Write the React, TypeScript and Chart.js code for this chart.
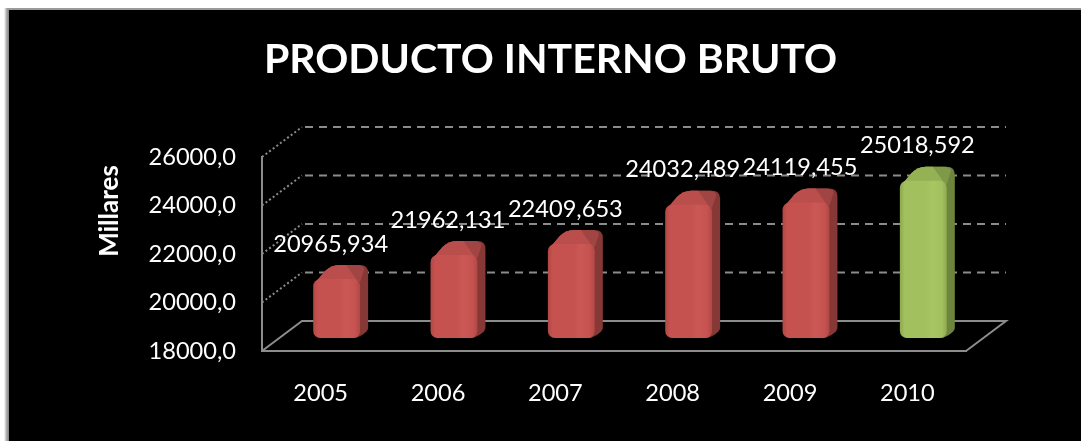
import React, { useEffect, useRef } from "react";
import { Chart, registerables } from "chart.js";

Chart.register(...registerables);

const TITLE = "PRODUCTO INTERNO BRUTO";
const AXIS_TITLE = "Millares";
const years = ["2005", "2006", "2007", "2008", "2009", "2010"];
const pib = [20965.934, 21962.131, 22409.653, 24032.489, 24119.455, 25018.592];
const faceMain = ["#c5524f", "#c5524f", "#c5524f", "#c5524f", "#c5524f", "#a2c05e"];
const faceEdge = ["#b04744", "#b04744", "#b04744", "#b04744", "#b04744", "#8ea84f"];
const faceLight = ["#cc5855", "#cc5855", "#cc5855", "#cc5855", "#cc5855", "#a9c663"];
const topColor = ["#ba4e4c", "#ba4e4c", "#ba4e4c", "#ba4e4c", "#ba4e4c", "#94b154"];
const topShade = ["#a04543", "#a04543", "#a04543", "#a04543", "#a04543", "#809948"];
const sideColor = ["#853835", "#853835", "#853835", "#853835", "#853835", "#6d843c"];

const AXIS_MIN = 18000;
const AXIS_MAX = 26000;
const AXIS_STEP = 2000;
const BAR_BASE = 18536;

const FONT = "Lato, Carlito, sans-serif";
const DEPTH_X = 40;
const DEPTH_Y = -30;
const GREY = "#8c8c8c";
const BAR_SHIFT = 16;

const fmtTick = (v: number) => v.toFixed(1).replace(".", ",");
const fmtVal = (v: number) => v.toFixed(3).replace(".", ",");

const scenePlugin = {
  id: "scene",
  beforeDraw(chart: any) {
    const { ctx, width, height } = chart;
    ctx.save();
    ctx.fillStyle = "#ffffff";
    ctx.fillRect(0, 0, width, height);
    const g = ctx.createLinearGradient(4, 0, 9, 0);
    g.addColorStop(0, "#ffffff");
    g.addColorStop(0.5, "#b0b0b0");
    g.addColorStop(1, "#808080");
    ctx.fillStyle = g;
    ctx.fillRect(4, 8, 5, height - 8);
    ctx.fillStyle = "#9a9a9a";
    ctx.fillRect(7, 8, width - 7, 2);
    ctx.fillStyle = "#000000";
    ctx.fillRect(9, 10, width - 9, height - 10);
    ctx.restore();
  },
  beforeDatasetsDraw(chart: any) {
    const { ctx, chartArea } = chart;
    const y = chart.scales.y;
    const { left, right, bottom } = chartArea;
    ctx.save();
    ctx.strokeStyle = GREY;
    ctx.lineWidth = 2;
    y.ticks.forEach((t: any) => {
      const py = y.getPixelForValue(t.value);
      if (t.value === AXIS_MIN) return;
      ctx.setLineDash([2, 2.5]);
      ctx.beginPath();
      ctx.moveTo(left, py);
      ctx.lineTo(left + DEPTH_X, py + DEPTH_Y);
      ctx.stroke();
      ctx.setLineDash([8, 6]);
      ctx.beginPath();
      ctx.moveTo(left + DEPTH_X + 3, py + DEPTH_Y);
      ctx.lineTo(right + DEPTH_X, py + DEPTH_Y);
      ctx.stroke();
    });
    ctx.setLineDash([]);
    ctx.beginPath();
    ctx.moveTo(left, bottom);
    ctx.lineTo(left + DEPTH_X, bottom + DEPTH_Y);
    ctx.lineTo(right + DEPTH_X, bottom + DEPTH_Y);
    ctx.lineTo(right, bottom);
    ctx.stroke();
    ctx.restore();

    ctx.save();
    ctx.fillStyle = "#ffffff";
    ctx.font = `bold 26px ${FONT}`;
    ctx.textAlign = "center";
    ctx.textBaseline = "middle";
    ctx.translate(110, 211);
    ctx.rotate(-Math.PI / 2);
    ctx.fillText(AXIS_TITLE, 0, 0);
    ctx.restore();
  },
  beforeDatasetDraw(chart: any, args: any) {
    const { ctx } = chart;
    ctx.save();
    ctx.translate(BAR_SHIFT, 0);
    ctx.filter = "blur(0.7px)";
    const meta = chart.getDatasetMeta(args.index);
    meta.data.forEach((bar: any, i: number) => {
      const x0 = bar.x - bar.width / 2;
      const x1 = bar.x + bar.width / 2;
      const yT = bar.y;
      const yB = bar.base;
      const outline = () => {
        ctx.moveTo(x0 + 1, yT + 5);
        ctx.lineTo(x0 + 12, yT - 8);
        ctx.quadraticCurveTo(x0 + 18, yT - 14, x0 + 26, yT - 14);
      };
      ctx.fillStyle = sideColor[i];
      ctx.beginPath();
      outline();
      ctx.lineTo(x1, yT - 14);
      ctx.quadraticCurveTo(x1 + 8, yT - 14, x1 + 8, yT - 6);
      ctx.lineTo(x1 + 8, yB - 10);
      ctx.quadraticCurveTo(x1 + 8, yB - 7, x1 + 2, yB - 3);
      ctx.lineTo(x1 - 4, yB);
      ctx.lineTo(x0 + 6, yB);
      ctx.closePath();
      ctx.fill();
      ctx.fillStyle = topShade[i];
      ctx.beginPath();
      outline();
      ctx.lineTo(x1 - 2, yT - 14);
      ctx.quadraticCurveTo(x1 + 5, yT - 13, x1 + 4, yT - 9);
      ctx.lineTo(x1, yT + 3);
      ctx.closePath();
      ctx.fill();
      ctx.fillStyle = topColor[i];
      ctx.beginPath();
      outline();
      ctx.lineTo(x1 - 14, yT - 14);
      ctx.lineTo(x1 - 2, yT + 3);
      ctx.closePath();
      ctx.fill();
    });
  },
  afterDatasetDraw(chart: any) {
    chart.ctx.restore();
  },
  afterDatasetsDraw(chart: any) {
    const { ctx } = chart;
    const meta = chart.getDatasetMeta(0);
    ctx.save();
    ctx.fillStyle = "#ffffff";
    ctx.font = `23.6px ${FONT}`;
    ctx.textAlign = "center";
    ctx.textBaseline = "middle";
    meta.data.forEach((bar: any, i: number) => {
      ctx.fillText(fmtVal(pib[i]), bar.x + 10, bar.y - 35);
    });
    ctx.restore();
  },
};

export default function App() {
  const ref = useRef<HTMLCanvasElement>(null);
  useEffect(() => {
    document.body.style.margin = "0";
    const chart = new Chart(ref.current as HTMLCanvasElement, {
      type: "bar",
      data: {
        labels: years,
        datasets: [
          {
            label: TITLE,
            data: pib,
            base: BAR_BASE,
            barPercentage: 0.4,
            categoryPercentage: 1,
            borderRadius: 7,
            borderSkipped: false,
            backgroundColor: (c: any) => {
              const i = c.dataIndex;
              if (i === undefined) return faceMain[0];
              const xs = c.chart.scales.x;
              const cx = xs.getPixelForValue(i);
              if (!Number.isFinite(cx)) return faceMain[i];
              const w = 47;
              const g = c.chart.ctx.createLinearGradient(cx - w / 2, 0, cx + w / 2, 0);
              g.addColorStop(0, faceEdge[i]);
              g.addColorStop(0.1, faceMain[i]);
              g.addColorStop(0.55, faceMain[i]);
              g.addColorStop(0.7, faceLight[i]);
              g.addColorStop(0.9, faceMain[i]);
              g.addColorStop(1, faceEdge[i]);
              return g;
            },
          },
        ],
      },
      options: {
        responsive: false,
        animation: false,
        layout: { padding: { left: 20, right: 0, top: 0, bottom: 0 } },
        plugins: {
          legend: { display: false },
          tooltip: { enabled: false },
          title: {
            display: true,
            text: TITLE,
            color: "#ffffff",
            font: { family: FONT, size: 41, weight: "bold", lineHeight: 1 },
            padding: { top: 39, bottom: 77 },
          },
        },
        scales: {
          x: {
            grid: { display: false },
            border: { color: GREY, width: 2 },
            ticks: { color: "#ffffff", font: { family: FONT, size: 23.6 }, padding: 20, maxRotation: 0 },
            afterFit(s: any) {
              s.height = 90;
              s.paddingLeft = 0;
              s.paddingRight = 115;
            },
          },
          y: {
            min: AXIS_MIN,
            max: AXIS_MAX,
            grid: { display: false, drawTicks: false },
            border: { color: GREY, width: 2 },
            ticks: {
              stepSize: AXIS_STEP,
              color: "#ffffff",
              font: { family: FONT, size: 23.6 },
              padding: 26,
              callback: (v: any) => fmtTick(Number(v)),
            },
            afterFit(s: any) {
              s.width = 242;
              s.paddingTop = 0;
              s.paddingBottom = 0;
            },
          },
        },
      },
      plugins: [scenePlugin],
    } as any);
    return () => chart.destroy();
  }, []);
  return <canvas ref={ref} width={1081} height={441} style={{ display: "block", width: 1081, height: 441 }} />;
}
